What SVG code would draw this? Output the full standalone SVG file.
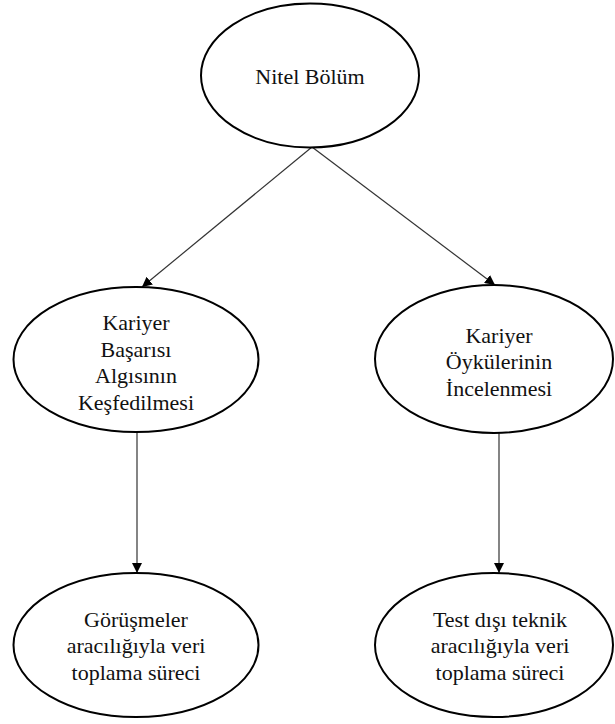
<svg xmlns="http://www.w3.org/2000/svg" width="615" height="724" viewBox="0 0 615 724">
<defs>
<style>
.node ellipse{fill:#fff;stroke:#000;stroke-width:2}
.node text{font-family:'Liberation Serif','Times New Roman','DejaVu Serif',serif;font-size:22px;fill:#111;text-anchor:middle}
.edges line{stroke:#333;stroke-width:1.2}
</style>
<marker id="arr" viewBox="0 0 10 10" refX="10" refY="5" markerWidth="10" markerHeight="10" markerUnits="userSpaceOnUse" orient="auto">
<path d="M0,0 L10,5 L0,10 z" fill="#000"/>
</marker>
</defs>
<rect width="615" height="724" fill="#fff"/>
<g class="edges">
<line x1="312" y1="147" x2="142" y2="287" marker-end="url(#arr)"/>
<line x1="312" y1="147" x2="495" y2="285" marker-end="url(#arr)"/>
<line x1="137" y1="432" x2="137" y2="573" marker-end="url(#arr)"/>
<line x1="499" y1="433" x2="499" y2="573" marker-end="url(#arr)"/>
</g>
<g id="n-nitel" class="node" font-family="Liberation Serif, serif">
<ellipse cx="310" cy="75.5" rx="109" ry="72"/>
<text x="310" y="84">Nitel Bölüm</text>
</g>
<g id="n-kariyer-basari" class="node" font-family="Liberation Serif, serif">
<ellipse cx="136" cy="359.5" rx="122.5" ry="72.5"/>
<text x="136" y="330">Kariyer</text>
<text x="136" y="357">Başarısı</text>
<text x="136" y="383">Algısının</text>
<text x="136" y="410">Keşfedilmesi</text>
</g>
<g id="n-kariyer-oyku" class="node" font-family="Liberation Serif, serif">
<ellipse cx="494" cy="359" rx="119" ry="74"/>
<text x="499" y="343">Kariyer</text>
<text x="499" y="369">Öykülerinin</text>
<text x="499" y="396">İncelenmesi</text>
</g>
<g id="n-gorusme" class="node" font-family="Liberation Serif, serif">
<ellipse cx="136" cy="645" rx="122.5" ry="72"/>
<text x="136" y="627">Görüşmeler</text>
<text x="136" y="653">aracılığıyla veri</text>
<text x="136" y="680">toplama süreci</text>
</g>
<g id="n-test" class="node" font-family="Liberation Serif, serif">
<ellipse cx="494" cy="645" rx="119" ry="72"/>
<text x="500" y="627">Test dışı teknik</text>
<text x="500" y="653">aracılığıyla veri</text>
<text x="500" y="680">toplama süreci</text>
</g>
</svg>
